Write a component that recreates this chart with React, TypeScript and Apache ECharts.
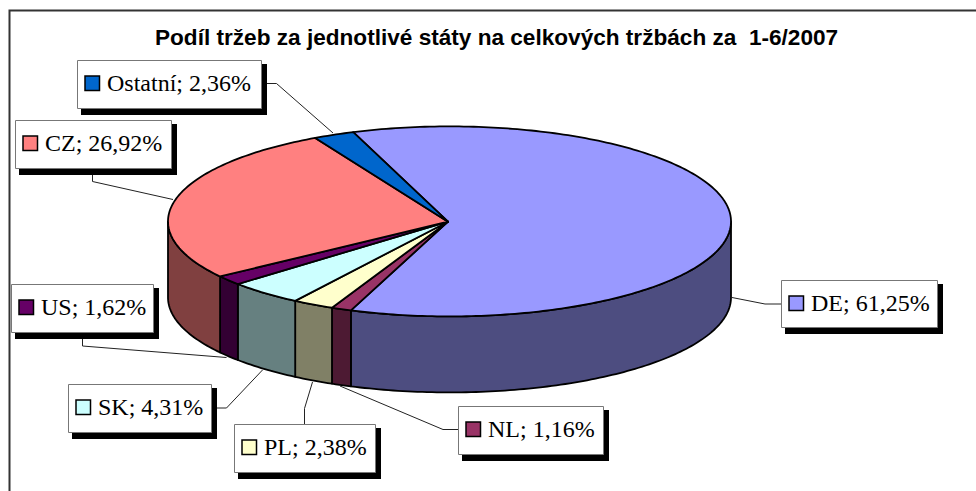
import React, { useEffect, useRef } from "react";
import * as echarts from "echarts";

const categories = ["DE", "NL", "PL", "SK", "US", "CZ", "Ostatní"];
const shares = [61.25, 1.16, 2.38, 4.31, 1.62, 26.92, 2.36];
const topColors = ["#9999FF", "#993366", "#FFFFCC", "#CCFFFF", "#660066", "#FF8080", "#0066CC"];
const sideColors = ["#4D4D80", "#4D1A33", "#808066", "#668080", "#330033", "#804040", "#003366"];
const titleText = "Podíl tržeb za jednotlivé státy na celkových tržbách za  1-6/2007";

// Layout of the label boxes: box x0, y0, x1, y1 and the leader line
const boxes: number[][] = [
  [781, 280, 937, 327],
  [458, 406, 603, 454],
  [234, 424, 375, 472],
  [68, 384, 211, 432],
  [11, 284, 153, 332],
  [15, 120, 171, 168],
  [77, 60, 261, 108],
];
const leaders: number[][][] = [
  [[781, 304], [765, 304], [732, 297.5]],
  [[458, 429.5], [443, 429.5], [340, 386]],
  [[304.5, 424], [304.5, 408.5], [312.5, 382]],
  [[211, 408], [226.5, 408], [262.5, 370]],
  [[82.5, 332], [82.5, 346], [226.5, 357.5]],
  [[92.5, 168], [92.5, 181.5], [173, 199.5]],
  [[261, 83.5], [276.5, 83.5], [333, 133]],
];

const CX = 449.5;
const CY = 221.4;
const RX = 281.5;
const RY = 95;
const DEPTH = 76;
const APEX: [number, number] = [448, 221.7];
const START_ANGLE = 340;

const total = shares.reduce((a, b) => a + b, 0);
const angleRange = (i: number): [number, number] => {
  let a = START_ANGLE;
  for (let k = 0; k < i; k++) a += (shares[k] / total) * 360;
  return [a, a + (shares[i] / total) * 360];
};
const pt = (deg: number, dy = 0): [number, number] => {
  const r = (deg * Math.PI) / 180;
  return [CX + RX * Math.sin(r), CY - RY * Math.cos(r) + dy];
};
const arc = (a0: number, a1: number, dy = 0) => {
  const out: [number, number][] = [];
  const n = Math.max(2, Math.ceil(Math.abs(a1 - a0)));
  for (let i = 0; i <= n; i++) out.push(pt(a0 + ((a1 - a0) * i) / n, dy));
  return out;
};

const seriesData = categories.map((name, i) => ({ name, value: shares[i] }));

function renderTop(params: any, api: any) {
  const i = params.dataIndex;
  const [a0, a1] = angleRange(i);
  api.value(0);
  return {
    type: "polygon",
    shape: { points: [APEX, ...arc(a0, a1)] },
    style: { fill: topColors[i], stroke: "#000", lineWidth: 1.8, lineJoin: "round" },
  };
}

function renderSide(params: any, api: any) {
  const i = params.dataIndex;
  const [a0, a1] = angleRange(i);
  api.value(0);
  const children: any[] = [];
  for (const [lo, hi] of [[90, 270], [450, 630]]) {
    const s = Math.max(a0, lo);
    const e = Math.min(a1, hi);
    if (e > s) {
      children.push({
        type: "polygon",
        shape: { points: [...arc(s, e), ...arc(e, s, DEPTH)] },
        style: { fill: sideColors[i], stroke: "#000", lineWidth: 1.8, lineJoin: "round" },
      });
    }
  }
  return { type: "group", children };
}

function renderLabel(params: any, api: any) {
  const i = params.dataIndex;
  const [x0, y0, x1, y1] = boxes[i];
  const text = `${categories[i]}; ${api.value(0).toFixed(2).replace(".", ",")}%`;
  return {
    type: "group",
    children: [
      {
        type: "polyline",
        shape: { points: leaders[i] },
        style: { fill: "none", stroke: "#222", lineWidth: 1 },
      },
      {
        type: "rect",
        shape: { x: x0 + 4, y: y0 + 4, width: x1 - x0 + 2, height: y1 - y0 + 3 },
        style: { fill: "#000" },
      },
      {
        type: "rect",
        shape: { x: x0 + 0.5, y: y0 + 0.5, width: x1 - x0, height: y1 - y0 },
        style: { fill: "#fff", stroke: "#777", lineWidth: 1 },
      },
      {
        type: "rect",
        shape: { x: x0 + 8, y: y0 + 16, width: 14.5, height: 14.5 },
        style: { fill: topColors[i], stroke: "#000", lineWidth: 1.5 },
      },
      {
        type: "text",
        x: x0 + 30,
        y: y0 + 23,
        style: {
          text,
          fill: "#000",
          font: '24px "Liberation Serif"',
          textAlign: "left",
          textVerticalAlign: "middle",
          verticalAlign: "middle",
        },
      },
    ],
  };
}

export default function App() {
  const ref = useRef<HTMLDivElement>(null);
  useEffect(() => {
    const chart = echarts.init(ref.current!, null, { renderer: "svg" });
    chart.setOption({
      animation: false,
      backgroundColor: "#fff",
      title: {
        text: titleText,
        left: 155,
        top: 26,
        padding: 0,
        textStyle: {
          fontFamily: "Liberation Sans",
          fontWeight: "bold",
          fontSize: 22.6,
          color: "#000",
        },
      },
      graphic: [
        {
          type: "polyline",
          shape: { points: [[9.5, 491], [9.5, 10.5], [976, 10.5]] },
          style: { fill: "none", stroke: "#333", lineWidth: 2 },
        },
      ],
      series: [
        { type: "custom", coordinateSystem: "none", renderItem: renderSide, data: seriesData, z: 2, clip: false },
        { type: "custom", coordinateSystem: "none", renderItem: renderTop, data: seriesData, z: 3, clip: false },
        { type: "custom", coordinateSystem: "none", renderItem: renderLabel, data: seriesData, z: 4, clip: false },
      ],
    });
    return () => chart.dispose();
  }, []);
  return <div ref={ref} style={{ position: "fixed", left: 0, top: 0, width: 976, height: 491 }} />;
}
